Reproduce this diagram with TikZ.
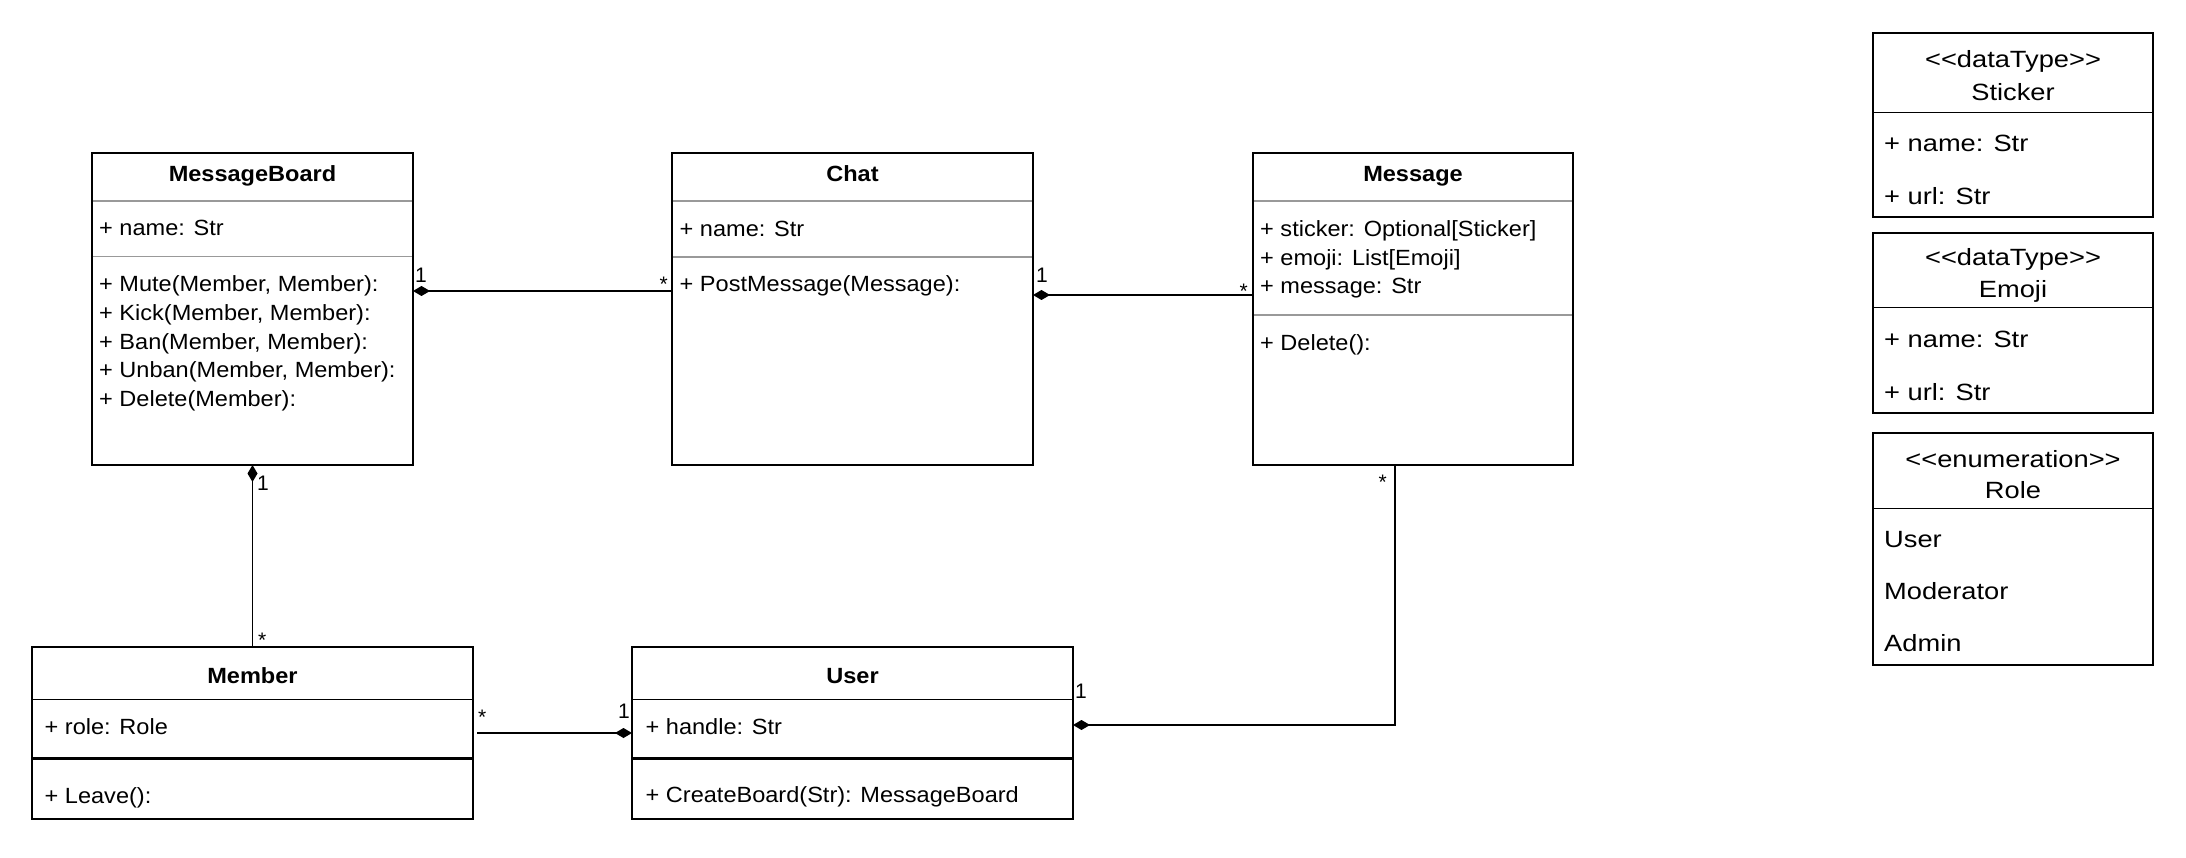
\documentclass[tikz,border=0pt]{standalone}
\usepackage{fontspec}
\setmainfont{Liberation Sans}
\newfontfamily\lfont[FakeStretch=1.07]{Liberation Sans}
\newfontfamily\rfont[FakeStretch=1.16]{Liberation Sans}
\usetikzlibrary{arrows.meta}
\begin{document}
\begin{tikzpicture}[x=1pt,y=-1pt,
  clsbox/.style={draw=black,line width=2pt,inner sep=0pt,outer sep=0pt,anchor=north west,fill=white},
  thinbox/.style={draw=black,line width=1.5pt,inner sep=0pt,outer sep=0pt,anchor=north west,fill=white},
  greysep/.style={draw=black!40,line width=1.4pt},
  blacksep/.style={draw=black,line width=1pt},
  thicksep/.style={draw=black,line width=2.6pt},
  txt/.style={inner sep=0pt,anchor=base west,font=\lfont\fontsize{22}{26}\selectfont},
  ttl/.style={inner sep=0pt,anchor=base,font=\lfont\bfseries\fontsize{22}{26}\selectfont},
  rtxt/.style={inner sep=0pt,anchor=base west,font=\rfont\fontsize{23.5}{28}\selectfont},
  rttl/.style={inner sep=0pt,anchor=base,font=\rfont\fontsize{23.5}{28}\selectfont},
  lbl/.style={inner sep=0pt,font=\fontsize{21}{25}\selectfont},
  con/.style={draw=black,line width=1.8pt},
  comp/.style={con,{Diamond[length=17pt,width=10pt]}-}
]
\fill[white] (0,0) rectangle (2186,858);
\useasboundingbox (0,0) rectangle (2186,858);

% ---------- MessageBoard ----------
\node[clsbox,minimum width=321pt,minimum height=312pt] (mb) at (92,153) {};
\draw[greysep] (93,201) -- (412,201);
\draw[greysep] (93,256.5) -- (412,256.5);
\node[ttl] (mbt) at (252.5,182) {MessageBoard};
\node[txt] (mba) at (99,236) {+ name: Str};
\node[txt] (mbm1) at (99,292) {+ Mute(Member, Member):};
\node[txt] (mbm2) at (99,320.5) {+ Kick(Member, Member):};
\node[txt] (mbm3) at (99,349) {+ Ban(Member, Member):};
\node[txt] (mbm4) at (99,377.5) {+ Unban(Member, Member):};
\node[txt] (mbm5) at (99,406) {+ Delete(Member):};

% ---------- Chat ----------
\node[clsbox,minimum width=361pt,minimum height=312pt] (chat) at (672,153) {};
\draw[greysep] (673,201) -- (1032,201);
\draw[greysep] (673,257) -- (1032,257);
\node[ttl] (chatt) at (852.5,182) {Chat};
\node[txt] (chata) at (679.5,236.5) {+ name: Str};
\node[txt] (chatm) at (679.5,291.5) {+ PostMessage(Message):};

% ---------- Message ----------
\node[clsbox,minimum width=320pt,minimum height=312pt] (msg) at (1253,153) {};
\draw[greysep] (1254,201) -- (1572,201);
\draw[greysep] (1254,315) -- (1572,315);
\node[ttl] (msgt) at (1413,182) {Message};
\node[txt] (msga1) at (1260,237) {+ sticker: Optional[Sticker]};
\node[txt] (msga2) at (1260,265.5) {+ emoji: List[Emoji]};
\node[txt] (msga3) at (1260,294) {+ message: Str};
\node[txt] (msgm) at (1260,350) {+ Delete():};

% ---------- Member ----------
\node[thinbox,minimum width=441pt,minimum height=172pt] (member) at (32,647) {};
\draw[con,line width=2.2pt] (member.north west) -- (member.north east);
\draw[blacksep] (32,699) -- (473,699);
\draw[thicksep] (32,758.5) -- (473,758.5);
\node[ttl] (membert) at (252.5,683) {Member};
\node[txt] (membera) at (44.5,734.5) {+ role: Role};
\node[txt] (memberm) at (44.5,803) {+ Leave():};

% ---------- User ----------
\node[thinbox,minimum width=441pt,minimum height=172pt] (user) at (632,647) {};
\draw[con,line width=2.2pt] (user.north west) -- (user.north east);
\draw[blacksep] (632,699) -- (1073,699);
\draw[thicksep] (632,758.5) -- (1073,758.5);
\node[ttl] (usert) at (852.5,683) {User};
\node[txt] (usera) at (645.5,734) {+ handle: Str};
\node[txt] (userm) at (645.5,802) {+ CreateBoard(Str): MessageBoard};

% ---------- Sticker ----------
\node[thinbox,minimum width=280pt,minimum height=184pt] (sticker) at (1873,33) {};
\draw[blacksep] (1873,113) -- (2153,113);
\node[rttl] (sticks) at (2013,68) {<<dataType>>};
\node[rttl] (stickt) at (2013,101) {Sticker};
\node[rtxt] (sticka1) at (1884,152) {+ name: Str};
\node[rtxt] (sticka2) at (1884,205) {+ url: Str};

% ---------- Emoji ----------
\node[thinbox,minimum width=280pt,minimum height=180pt] (emoji) at (1873,233) {};
\draw[blacksep] (1873,308) -- (2153,308);
\node[rttl] (emojis) at (2013,266) {<<dataType>>};
\node[rttl] (emojit) at (2013,298) {Emoji};
\node[rtxt] (emojia1) at (1884,348) {+ name: Str};
\node[rtxt] (emojia2) at (1884,400) {+ url: Str};

% ---------- Role ----------
\node[thinbox,minimum width=280pt,minimum height=232pt] (role) at (1873,433) {};
\draw[blacksep] (1873,508) -- (2153,508);
\node[rttl] (roles) at (2013,467) {<<enumeration>>};
\node[rttl] (rolet) at (2013,498) {Role};
\node[rtxt] (rolev1) at (1884,547) {User};
\node[rtxt] (rolev2) at (1884,599) {Moderator};
\node[rtxt] (rolev3) at (1884,651) {Admin};

% ---------- Connectors ----------
\draw[comp] (mb.east |- 0,291) -- (chat.west |- 0,291);
\draw[comp] (chat.east |- 0,295) -- (msg.west |- 0,295);
\draw[comp] (mb.south) -- (member.north);
\draw[comp] (user.west |- 0,733) -- ([xshift=4pt]member.east |- 0,733);
\draw[comp] (user.east |- 0,725) -| (msg.south -| 1395,0);

% ---------- Multiplicities ----------
\node[lbl,anchor=base west] (m1) at (415,283) {1};
\node[lbl,anchor=base east] (m2) at (668,292) {*};
\node[lbl,anchor=base west] (m3) at (1036,283) {1};
\node[lbl,anchor=base east] (m4) at (1248,299) {*};
\node[lbl,anchor=base west] (m5) at (257,490) {1};
\node[lbl,anchor=base west] (m6) at (258,647) {*};
\node[lbl,anchor=base west] (m7) at (478,724) {*};
\node[lbl,anchor=base east] (m8) at (630,718) {1};
\node[lbl,anchor=base east] (m9) at (1387,489) {*};
\node[lbl,anchor=base west] (m10) at (1075,698) {1};
\end{tikzpicture}
\end{document}
